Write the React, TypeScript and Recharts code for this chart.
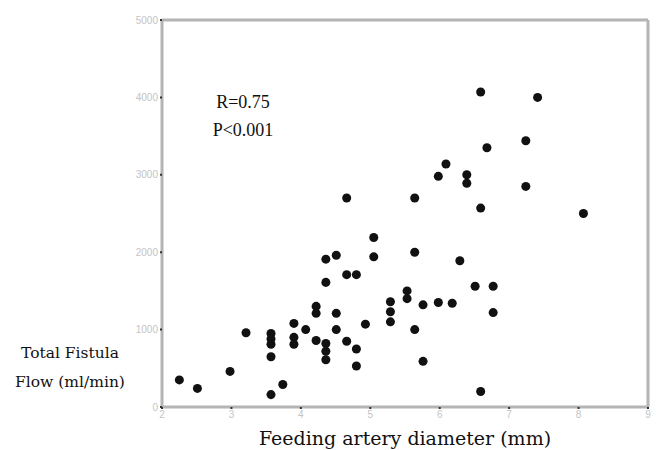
import { ScatterChart, Scatter, XAxis, YAxis, ZAxis, ReferenceLine } from "recharts";

// feeding artery diameter (mm)
const diameters = [
  2.25, 2.51, 2.98, 3.21, 3.57, 3.57, 3.57, 3.57, 3.57, 3.74,
  3.9, 3.9, 3.9, 4.07, 4.22, 4.22, 4.22, 4.36, 4.36, 4.36,
  4.36, 4.36, 4.51, 4.51, 4.51, 4.66, 4.66, 4.66, 4.8, 4.8,
  4.8, 4.93, 5.05, 5.05, 5.29, 5.29, 5.29, 5.53, 5.53, 5.64,
  5.64, 5.64, 5.76, 5.76, 5.98, 5.98, 6.09, 6.18, 6.29, 6.39,
  6.39, 6.51, 6.59, 6.59, 6.59, 6.68, 6.77, 6.77, 7.24, 7.24,
  7.41, 8.07,
];

// total fistula flow (ml/min)
const flows = [
  350, 240, 460, 960, 950, 880, 810, 650, 160, 290,
  1080, 900, 810, 1000, 1300, 1210, 860, 1910, 1610, 820,
  720, 610, 1960, 1210, 1000, 2700, 1710, 850, 1710, 750,
  530, 1070, 2190, 1940, 1360, 1230, 1100, 1500, 1400, 2700,
  2000, 1000, 1320, 590, 2980, 1350, 3140, 1340, 1890, 3000,
  2890, 1560, 4070, 2570, 200, 3350, 1560, 1220, 3440, 2850,
  4000, 2500,
];

const xTicks = [2, 3, 4, 5, 6, 7, 8, 9];
const yTicks = [0, 1000, 2000, 3000, 4000, 5000];

const points = diameters.map((d, i) => ({ x: d, y: flows[i] }));

const serif = "'Liberation Serif', 'Times New Roman', serif";
const wideSerif = "'DejaVu Serif', serif";
const axisGrey = "#b4b4b4";

export default function App() {
  return (
    <div
      style={{
        position: "absolute",
        left: 0,
        top: 0,
        width: 656,
        height: 450,
        background: "#fff",
      }}
    >
      <ScatterChart
        width={656}
        height={450}
        margin={{ top: 20, right: 8, bottom: 23, left: 112 }}
      >
        <XAxis
          type="number"
          dataKey="x"
          domain={[2, 9]}
          ticks={xTicks}
          height={20}
          axisLine={{ stroke: axisGrey, strokeWidth: 3 }}
          tickLine={{ stroke: "#333", strokeWidth: 2 }}
          tickSize={2}
          tick={{ fill: "#c4c4c4", fontSize: 10, fontFamily: "Arial, sans-serif" }}
        />
        <YAxis
          type="number"
          dataKey="y"
          domain={[0, 5000]}
          ticks={yTicks}
          width={50}
          axisLine={{ stroke: axisGrey, strokeWidth: 3 }}
          tickLine={{ stroke: "#333", strokeWidth: 2 }}
          tickSize={2}
          tick={{ fill: "#c4c4c4", fontSize: 10, fontFamily: "Arial, sans-serif" }}
        />
        <ZAxis range={[32, 32]} />
        <ReferenceLine y={5000} stroke={axisGrey} strokeWidth={3} />
        <ReferenceLine x={9} stroke={axisGrey} strokeWidth={3} />
        <Scatter data={points} fill="#111" isAnimationActive={false} />
      </ScatterChart>

      <div
        style={{
          position: "absolute",
          left: 193,
          top: 88,
          width: 100,
          textAlign: "center",
          fontFamily: serif,
          fontSize: 18,
          lineHeight: "28px",
          color: "#111",
        }}
      >
        R=0.75
        <br />
        P&lt;0.001
      </div>

      <div
        style={{
          position: "absolute",
          left: 0,
          top: 339,
          width: 140,
          textAlign: "center",
          fontFamily: wideSerif,
          fontSize: 15.5,
          lineHeight: "29px",
          color: "#111",
        }}
      >
        Total Fistula
        <br />
        Flow (ml/min)
      </div>

      <div
        style={{
          position: "absolute",
          left: 155,
          top: 425,
          width: 500,
          textAlign: "center",
          fontFamily: wideSerif,
          fontSize: 19,
          lineHeight: "26px",
          color: "#111",
        }}
      >
        Feeding artery diameter (mm)
      </div>
    </div>
  );
}
